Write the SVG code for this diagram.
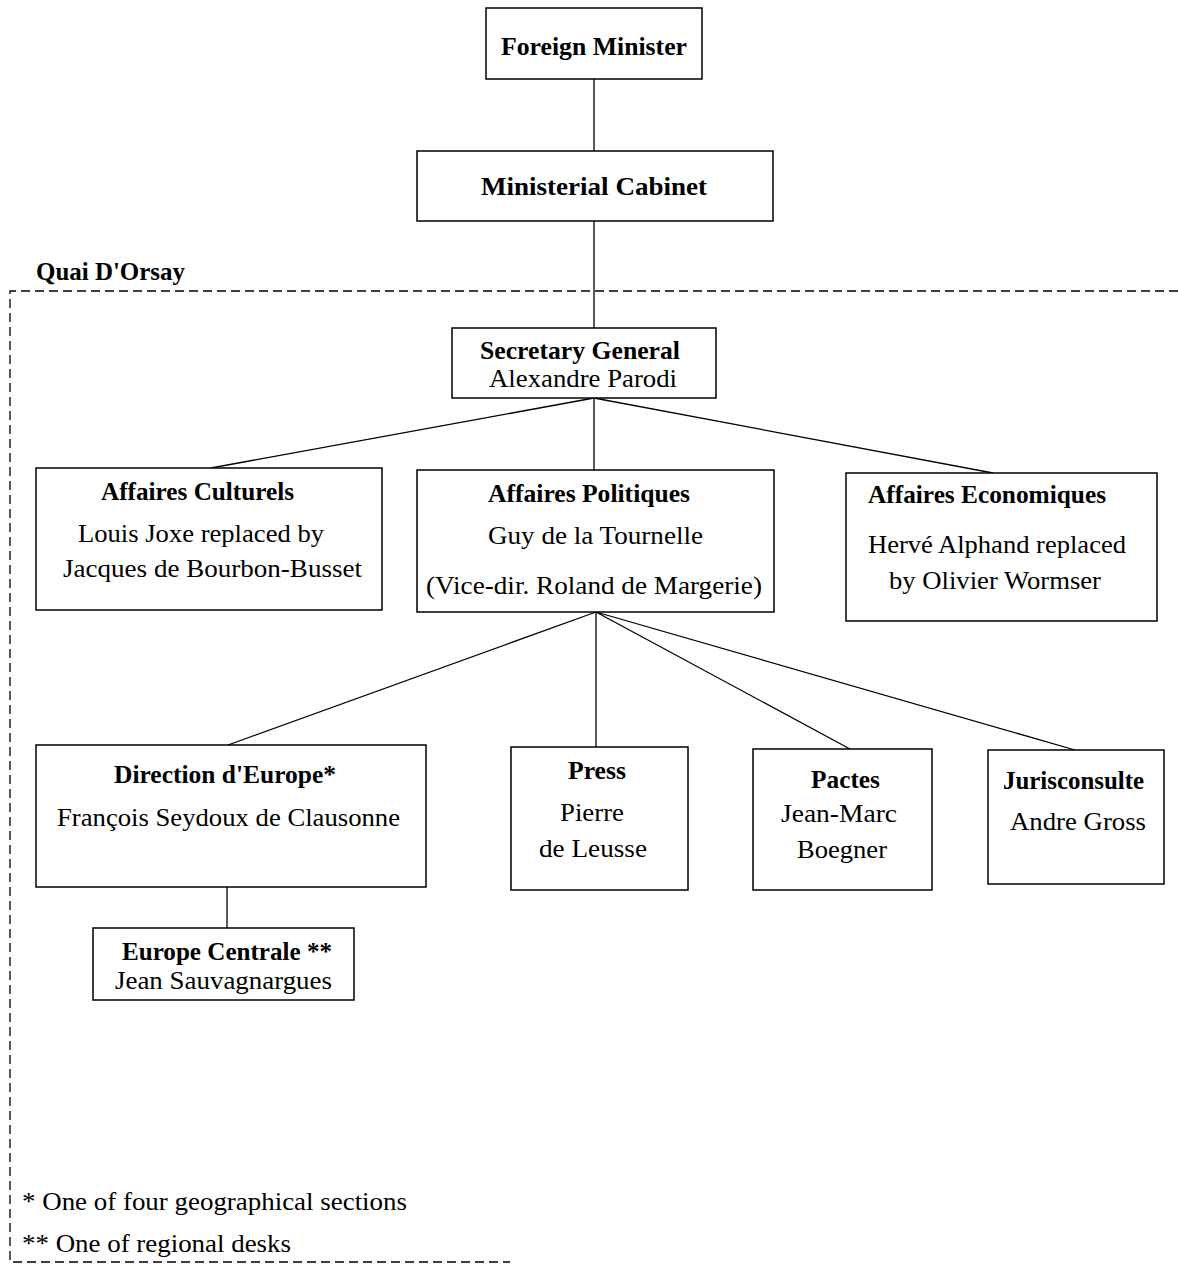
<svg xmlns="http://www.w3.org/2000/svg" width="1178" height="1266" viewBox="0 0 1178 1266">
<style>
.box{fill:#fff;stroke:#000;stroke-width:1.5}
.t{font-family:"Liberation Serif","Times New Roman",serif;font-size:26px;fill:#000}
.b{font-weight:bold}
.c{text-anchor:start}
.conn line{stroke:#000;stroke-width:1.3}
.frame{fill:none;stroke:#000;stroke-width:1.3;stroke-dasharray:9 5}
</style>
<rect width="1178" height="1266" fill="#fff"/>
<g id="frame">
<path class="frame" d="M1178 291 H10 V1262 H510"/>
<text class="t b" x="36" y="280" textLength="149" lengthAdjust="spacingAndGlyphs">Quai D'Orsay</text>
</g>
<g class="conn" id="connectors">
<line x1="594" y1="79" x2="594" y2="151"/>
<line x1="594" y1="221" x2="594" y2="328"/>
<line x1="594" y1="398" x2="211" y2="468"/>
<line x1="594" y1="398" x2="594" y2="470"/>
<line x1="594" y1="398" x2="993" y2="473"/>
<line x1="596" y1="612" x2="228" y2="745"/>
<line x1="596" y1="612" x2="596" y2="747"/>
<line x1="596" y1="612" x2="850" y2="749"/>
<line x1="596" y1="612" x2="1075" y2="750"/>
<line x1="227" y1="887" x2="227" y2="928"/>
</g>
<g id="foreign-minister">
<rect class="box" x="486" y="8" width="216" height="71"/>
<text class="t b" x="501" y="55" textLength="186" lengthAdjust="spacingAndGlyphs">Foreign Minister</text>
</g>
<g id="ministerial-cabinet">
<rect class="box" x="417" y="151" width="356" height="70"/>
<text class="t b" x="481" y="195" textLength="226" lengthAdjust="spacingAndGlyphs">Ministerial Cabinet</text>
</g>
<g id="secretary-general">
<rect class="box" x="452" y="328" width="264" height="70"/>
<text class="t b" x="480" y="359" textLength="200" lengthAdjust="spacingAndGlyphs">Secretary General</text>
<text class="t" x="489" y="387" textLength="188" lengthAdjust="spacingAndGlyphs">Alexandre Parodi</text>
</g>
<g id="affaires-culturels">
<rect class="box" x="36" y="468" width="346" height="142"/>
<text class="t b" x="101" y="500" textLength="193" lengthAdjust="spacingAndGlyphs">Affaires Culturels</text>
<text class="t" x="78" y="542" textLength="246" lengthAdjust="spacingAndGlyphs">Louis Joxe replaced by</text>
<text class="t" x="63" y="577" textLength="299" lengthAdjust="spacingAndGlyphs">Jacques de Bourbon-Busset</text>
</g>
<g id="affaires-politiques">
<rect class="box" x="417" y="470" width="357" height="142"/>
<text class="t b" x="488" y="502" textLength="202" lengthAdjust="spacingAndGlyphs">Affaires Politiques</text>
<text class="t" x="488" y="544" textLength="215" lengthAdjust="spacingAndGlyphs">Guy de la Tournelle</text>
<text class="t" x="426" y="594" textLength="336" lengthAdjust="spacingAndGlyphs">(Vice-dir. Roland de Margerie)</text>
</g>
<g id="affaires-economiques">
<rect class="box" x="846" y="473" width="311" height="148"/>
<text class="t b" x="868" y="503" textLength="238" lengthAdjust="spacingAndGlyphs">Affaires Economiques</text>
<text class="t" x="868" y="553" textLength="258" lengthAdjust="spacingAndGlyphs">Hervé Alphand replaced</text>
<text class="t" x="889" y="589" textLength="212" lengthAdjust="spacingAndGlyphs">by Olivier Wormser</text>
</g>
<g id="direction-europe">
<rect class="box" x="36" y="745" width="390" height="142"/>
<text class="t b" x="114" y="783" textLength="222" lengthAdjust="spacingAndGlyphs">Direction d'Europe*</text>
<text class="t" x="57" y="826" textLength="343" lengthAdjust="spacingAndGlyphs">François Seydoux de Clausonne</text>
</g>
<g id="press">
<rect class="box" x="511" y="747" width="177" height="143"/>
<text class="t b" x="568" y="779" textLength="58" lengthAdjust="spacingAndGlyphs">Press</text>
<text class="t" x="560" y="821" textLength="64" lengthAdjust="spacingAndGlyphs">Pierre</text>
<text class="t" x="539" y="857" textLength="108" lengthAdjust="spacingAndGlyphs">de Leusse</text>
</g>
<g id="pactes">
<rect class="box" x="753" y="749" width="179" height="141"/>
<text class="t b" x="811" y="788" textLength="69" lengthAdjust="spacingAndGlyphs">Pactes</text>
<text class="t" x="781" y="822" textLength="116" lengthAdjust="spacingAndGlyphs">Jean-Marc</text>
<text class="t" x="797" y="858" textLength="90" lengthAdjust="spacingAndGlyphs">Boegner</text>
</g>
<g id="jurisconsulte">
<rect class="box" x="988" y="750" width="176" height="134"/>
<text class="t b" x="1003" y="789" textLength="141" lengthAdjust="spacingAndGlyphs">Jurisconsulte</text>
<text class="t" x="1010" y="830" textLength="136" lengthAdjust="spacingAndGlyphs">Andre Gross</text>
</g>
<g id="europe-centrale">
<rect class="box" x="93" y="928" width="261" height="72"/>
<text class="t b" x="122" y="960" textLength="210" lengthAdjust="spacingAndGlyphs">Europe Centrale **</text>
<text class="t" x="115" y="989" textLength="217" lengthAdjust="spacingAndGlyphs">Jean Sauvagnargues</text>
</g>
<g id="footnotes">
<text class="t" x="22" y="1210" textLength="385" lengthAdjust="spacingAndGlyphs">* One of four geographical sections</text>
<text class="t" x="22" y="1252" textLength="269" lengthAdjust="spacingAndGlyphs">** One of regional desks</text>
</g>
</svg>
